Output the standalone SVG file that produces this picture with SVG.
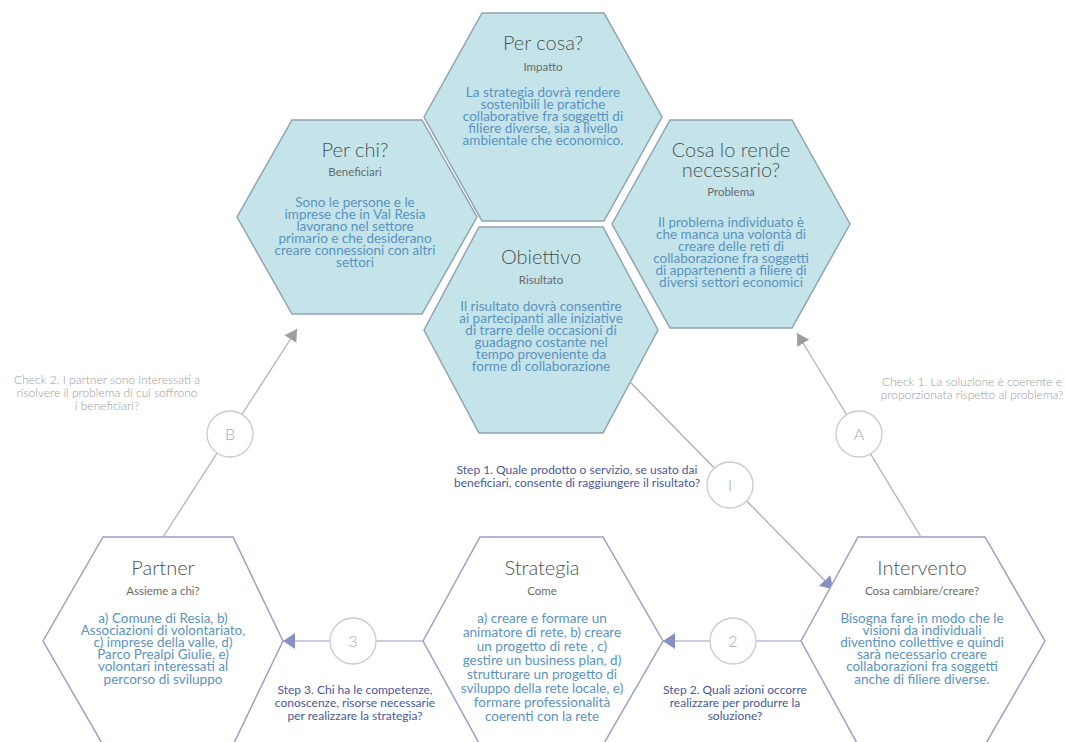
<svg xmlns="http://www.w3.org/2000/svg" width="1066" height="742" viewBox="0 0 1066 742">
<defs>
<style>
.top{fill:#c4e4ea;stroke:#8fa3b2;stroke-width:1.5}
.bot{fill:#ffffff;stroke:#9aa0c8;stroke-width:1.5}
.title{font-family:Lato,"Open Sans",sans-serif;font-weight:300;font-size:20px;fill:#4a5555;text-anchor:middle}
.sub{font-family:Lato,"Open Sans",sans-serif;font-size:11.5px;fill:#6a6a6a;text-anchor:middle}
.body{font-family:Lato,"Open Sans",sans-serif;font-size:13.5px;fill:#5b93c0;text-anchor:middle}
.check{font-family:Lato,"Open Sans",sans-serif;font-weight:300;font-size:12px;fill:#9a9a9a;text-anchor:middle}
.step{font-family:Lato,"Open Sans",sans-serif;font-size:12px;fill:#4b5899;text-anchor:middle}
.circ{fill:#fff;stroke:#c9cad6;stroke-width:1.3}
.lbl{font-family:Lato,"Open Sans",sans-serif;font-weight:300;font-size:16px;fill:#a8a8b0;text-anchor:middle}
.gline{stroke:#b3b3b3;stroke-width:1.3;fill:none}
.bline{stroke:#b8bbd6;stroke-width:1.5;fill:none}
</style>
<marker id="ag" viewBox="0 0 12 14" refX="12" refY="7" markerWidth="12" markerHeight="14" markerUnits="userSpaceOnUse" orient="auto"><path d="M0,0 L12,7 L0,14 Z" fill="#9e9e9e"/></marker>
<marker id="ab" viewBox="0 0 12 16" refX="12" refY="8" markerWidth="12" markerHeight="16" markerUnits="userSpaceOnUse" orient="auto"><path d="M0,0 L12,8 L0,16 Z" fill="#8790c2"/></marker>
</defs>
<rect width="1066" height="742" fill="#ffffff"/>

<g id="connectors">
<line class="gline" x1="163" y1="537" x2="297" y2="329" marker-end="url(#ag)"/>
<line class="gline" x1="921" y1="537" x2="797" y2="333" marker-end="url(#ag)"/>
<line class="gline" x1="630" y1="382" x2="833" y2="589" marker-end="url(#ab)" style="stroke:#a9aac0"/>
<line class="bline" x1="423" y1="641" x2="283" y2="641" marker-end="url(#ab)"/>
<line class="bline" x1="801" y1="641" x2="663" y2="641" marker-end="url(#ab)"/>
</g>

<g id="per-cosa">
<polygon class="top" points="424,117 482,13 604,13 662,117 604,221 482,221"/>
<text class="title" x="543" y="50">Per cosa?</text>
<text class="sub" x="543" y="71">Impatto</text>
<text class="body" x="543" y="97">La strategia dovrà rendere</text>
<text class="body" x="543" y="109">sostenibili le pratiche</text>
<text class="body" x="543" y="121">collaborative fra soggetti di</text>
<text class="body" x="543" y="133">filiere diverse, sia a livello</text>
<text class="body" x="543" y="145">ambientale che economico.</text>
</g>

<g id="per-chi">
<polygon class="top" points="237,217 292,120 422,120 477,217 422,314 292,314"/>
<text class="title" x="355" y="157">Per chi?</text>
<text class="sub" x="355" y="176">Beneficiari</text>
<text class="body" x="355" y="207">Sono le persone e le</text>
<text class="body" x="355" y="219">imprese che in Val Resia</text>
<text class="body" x="355" y="231">lavorano nel settore</text>
<text class="body" x="355" y="243">primario e che desiderano</text>
<text class="body" x="355" y="255">creare connessioni con altri</text>
<text class="body" x="355" y="267">settori</text>
</g>

<g id="cosa-lo-rende">
<polygon class="top" points="612,224 670,120 792,120 850,224 792,328 670,328"/>
<text class="title" x="731" y="157">Cosa lo rende</text>
<text class="title" x="731" y="177">necessario?</text>
<text class="sub" x="731" y="196">Problema</text>
<text class="body" x="731" y="227">Il problema individuato è</text>
<text class="body" x="731" y="239">che manca una volontà di</text>
<text class="body" x="731" y="251">creare delle reti di</text>
<text class="body" x="731" y="263">collaborazione fra soggetti</text>
<text class="body" x="731" y="275">di appartenenti a filiere di</text>
<text class="body" x="731" y="287">diversi settori economici</text>
</g>

<g id="obiettivo">
<polygon class="top" points="424,330 479,227 603,227 658,330 603,433 479,433"/>
<text class="title" x="541" y="264">Obiettivo</text>
<text class="sub" x="541" y="284">Risultato</text>
<text class="body" x="541" y="311">Il risultato dovrà consentire</text>
<text class="body" x="541" y="323">ai partecipanti alle iniziative</text>
<text class="body" x="541" y="335">di trarre delle occasioni di</text>
<text class="body" x="541" y="347">guadagno costante nel</text>
<text class="body" x="541" y="359">tempo proveniente da</text>
<text class="body" x="541" y="371">forme di collaborazione</text>
</g>

<g id="partner">
<polygon class="bot" points="43,641 103,537 233,537 283,641 233,745 103,745"/>
<text class="title" x="163" y="575">Partner</text>
<text class="sub" x="163" y="595">Assieme a chi?</text>
<text class="body" x="163" y="623">a) Comune di Resia, b)</text>
<text class="body" x="163" y="635">Associazioni di volontariato,</text>
<text class="body" x="163" y="647">c) imprese della valle, d)</text>
<text class="body" x="163" y="659">Parco Prealpi Giulie, e)</text>
<text class="body" x="163" y="671">volontari interessati al</text>
<text class="body" x="163" y="684">percorso di sviluppo</text>
</g>

<g id="strategia">
<polygon class="bot" points="423,641 480,537 603,537 663,641 603,745 480,745"/>
<text class="title" x="542" y="575">Strategia</text>
<text class="sub" x="542" y="595">Come</text>
<text class="body" x="542" y="623">a) creare e formare un</text>
<text class="body" x="542" y="637">animatore di rete, b) creare</text>
<text class="body" x="542" y="651">un progetto di rete , c)</text>
<text class="body" x="542" y="665">gestire un business plan, d)</text>
<text class="body" x="542" y="679">strutturare un progetto di</text>
<text class="body" x="542" y="693">sviluppo della rete locale, e)</text>
<text class="body" x="542" y="707">formare professionalità</text>
<text class="body" x="542" y="721">coerenti con la rete</text>
</g>

<g id="intervento">
<polygon class="bot" points="801,641 858,537 985,537 1045,641 985,745 858,745"/>
<text class="title" x="922" y="575">Intervento</text>
<text class="sub" x="922" y="595">Cosa cambiare/creare?</text>
<text class="body" x="922" y="623">Bisogna fare in modo che le</text>
<text class="body" x="922" y="635">visioni da individuali</text>
<text class="body" x="922" y="647">diventino collettive e quindi</text>
<text class="body" x="922" y="659">sarà necessario creare</text>
<text class="body" x="922" y="671">collaborazioni fra soggetti</text>
<text class="body" x="922" y="684">anche di filiere diverse.</text>
</g>

<g id="circle-B"><circle class="circ" cx="230" cy="434" r="23"/><text class="lbl" x="230" y="440">B</text></g>
<g id="circle-A"><circle class="circ" cx="859" cy="434" r="23"/><text class="lbl" x="859" y="440">A</text></g>
<g id="circle-I"><circle class="circ" cx="730" cy="485" r="23"/><text class="lbl" x="730" y="491">I</text></g>
<g id="circle-3"><circle class="circ" cx="353" cy="641" r="23"/><text class="lbl" x="353" y="647">3</text></g>
<g id="circle-2"><circle class="circ" cx="733" cy="641" r="23"/><text class="lbl" x="733" y="647">2</text></g>

<g id="check-2">
<text class="check" x="107" y="384">Check 2. I partner sono interessati a</text>
<text class="check" x="107" y="397">risolvere il problema di cui soffrono</text>
<text class="check" x="107" y="410">i beneficiari?</text>
</g>
<g id="check-1">
<text class="check" x="972" y="386">Check 1. La soluzione è coerente e</text>
<text class="check" x="972" y="399">proporzionata rispetto al problema?</text>
</g>
<g id="step-1">
<text class="step" x="577" y="474">Step 1. Quale prodotto o servizio, se usato dai</text>
<text class="step" x="577" y="487">beneficiari, consente di raggiungere il risultato?</text>
</g>
<g id="step-3">
<text class="step" x="355" y="694">Step 3. Chi ha le competenze,</text>
<text class="step" x="355" y="707">conoscenze, risorse necessarie</text>
<text class="step" x="355" y="720">per realizzare la strategia?</text>
</g>
<g id="step-2">
<text class="step" x="735" y="694">Step 2. Quali azioni occorre</text>
<text class="step" x="735" y="707">realizzare per produrre la</text>
<text class="step" x="735" y="720">soluzione?</text>
</g>
</svg>
